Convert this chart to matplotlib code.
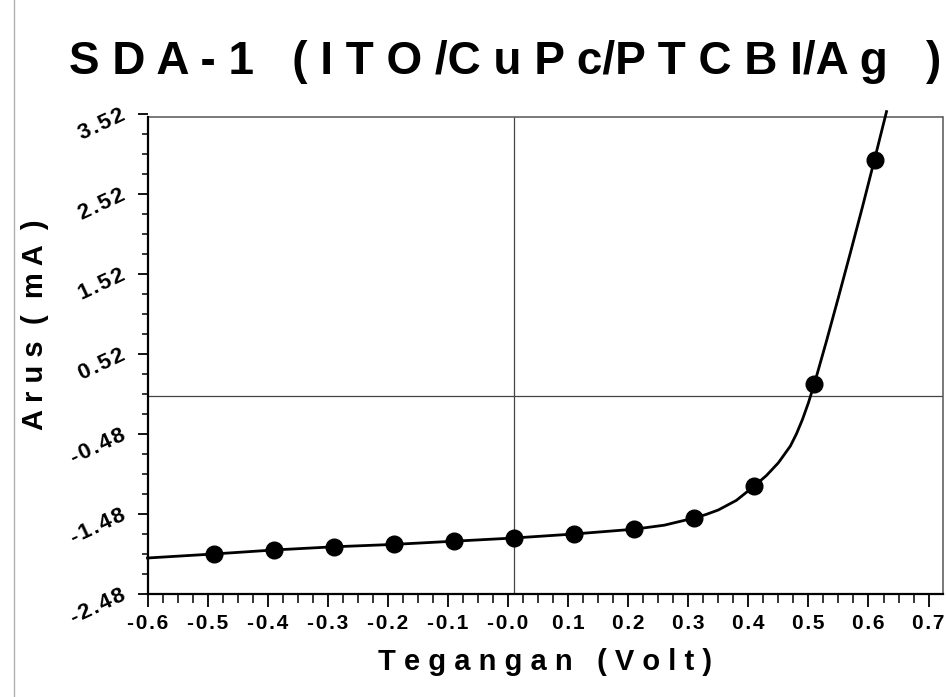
import matplotlib
matplotlib.use("Agg")
import matplotlib.pyplot as plt
from matplotlib.lines import Line2D
import numpy as np

plt.rcParams['font.family'] = ['Liberation Sans', 'DejaVu Sans']

# measured points (V, mA)
volt = [-0.49, -0.39, -0.29, -0.19, -0.09, 0.01, 0.11, 0.21, 0.31, 0.41, 0.51, 0.61]
arus = [-1.98, -1.93, -1.89, -1.86, -1.82, -1.78, -1.73, -1.67, -1.53, -1.13, 0.15, 2.95]

# fitted curve
fit_v = [-0.60, -0.49, -0.39, -0.29, -0.19, -0.09, 0.01, 0.11, 0.21, 0.26, 0.31, 0.33,
         0.35, 0.38, 0.41, 0.43, 0.45, 0.47, 0.48, 0.49, 0.50, 0.51, 0.53, 0.55,
         0.57, 0.59, 0.61, 0.63]
fit_i = [-2.03, -1.98, -1.93, -1.89, -1.86, -1.82, -1.78, -1.73, -1.67, -1.62, -1.53, -1.485,
         -1.43, -1.31, -1.13, -1.00, -0.84, -0.63, -0.48, -0.30, -0.09, 0.15, 0.68, 1.23,
         1.79, 2.36, 2.95, 3.55]

x_ticks = [-0.6, -0.5, -0.4, -0.3, -0.2, -0.1, 0.0, 0.1, 0.2, 0.3, 0.4, 0.5, 0.6, 0.7]
x_labels = ['-0.6', '-0.5', '-0.4', '-0.3', '-0.2', '-0.1', '-0.0', '0.1', '0.2', '0.3',
            '0.4', '0.5', '0.6', '0.7']
y_ticks = [-2.48, -1.48, -0.48, 0.52, 1.52, 2.52, 3.52]
y_labels = ['-2.48', '-1.48', '-0.48', '0.52', '1.52', '2.52', '3.52']


def spaced(s):
    return '\u200a'.join(s)


W, H = 947, 697
fig = plt.figure(figsize=(W / 100, H / 100), dpi=100)
fig.patch.set_facecolor('white')

x0, x1 = -0.6, 0.724
y0, y1 = -2.48, 3.52
frame_top = 3.478
ax = fig.add_axes([147.5 / W, (H - 594) / H, 795.5 / W, 480 / H])
ax.set_xlim(x0, x1)
ax.set_ylim(y0, y1)

# frame
ax.spines['top'].set_visible(False)
ax.spines['left'].set_bounds(y0, frame_top)
ax.spines['right'].set_bounds(y0, frame_top)
ax.spines['left'].set_linewidth(1.6)
ax.spines['bottom'].set_linewidth(1.6)
ax.spines['left'].set_color('black')
ax.spines['bottom'].set_color('black')
ax.spines['right'].set_color('#555555')
ax.spines['right'].set_linewidth(1.1)
ax.hlines(frame_top, x0, x1, color='#555555', lw=1.1, clip_on=False, zorder=2)

# zero lines
ax.hlines(0.0, x0, x1, color='#444444', lw=0.9, zorder=1)
ax.vlines(0.01, y0, frame_top, color='#444444', lw=0.9, zorder=1)

# curve and points
ax.plot(fit_v, fit_i, color='black', lw=2.0, clip_on=False, zorder=3,
        solid_joinstyle='round')
ax.plot(volt, arus, 'o', color='black', ms=12, zorder=4)

# ticks
ax.set_xticks(x_ticks)
ax.set_xticklabels([spaced(s) for s in x_labels], fontsize=15, fontweight='bold')
ax.set_xticks(np.arange(-0.6, 0.7001, 0.025), minor=True)
ax.set_yticks(y_ticks)
ax.set_yticklabels([spaced(s) for s in y_labels], fontsize=16, fontweight='bold',
                   rotation=25, rotation_mode='anchor', ha='right', va='center')
ax.set_yticks(np.arange(-2.48, 3.5201, 0.25), minor=True)
ax.tick_params(axis='x', which='major', direction='out', length=9.5, width=1.3, pad=5)
ax.tick_params(axis='x', which='minor', direction='out', length=6.5, width=1.1)
ax.tick_params(axis='y', which='major', direction='out', length=7.5, width=1.3, pad=9)
ax.tick_params(axis='y', which='minor', direction='out', length=4.5, width=1.1)

# texts
fig.text(505 / W, 1 - 62 / H, 'S D A - 1   ( I T O /C u P c/P T C B I/A g   )',
         ha='center', va='center', fontsize=33, fontweight='bold')
fig.text(545 / W, 1 - 662 / H, 'T e g a n g a n   ( V o l t )',
         ha='center', va='center', fontsize=21, fontweight='bold')
fig.text(35 / W, 1 - 325 / H, 'A r u s  (  m A  )', rotation=90,
         ha='center', va='center', fontsize=21, fontweight='bold')

# thin gray left border
fig.add_artist(Line2D([13.5 / W, 13.5 / W], [0, 1], color='#b0b0b0', lw=1.0))

fig.savefig('out.png', dpi=100)
